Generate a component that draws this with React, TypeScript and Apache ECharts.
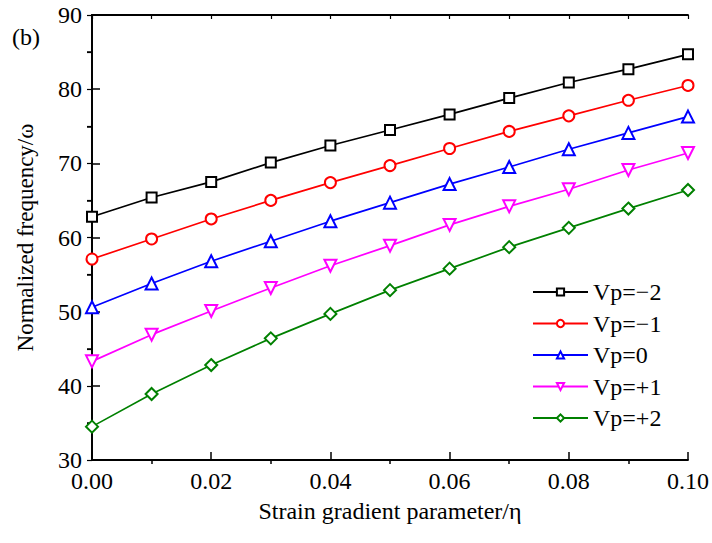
import React, { useEffect, useRef } from "react";
import * as echarts from "echarts";

const etaValues = [0, 0.01, 0.02, 0.03, 0.04, 0.05, 0.06, 0.07, 0.08, 0.09, 0.1];
const seriesNames = ["Vp=\u22122", "Vp=\u22121", "Vp=0", "Vp=+1", "Vp=+2"];
const vpMinus2 = [62.8, 65.4, 67.5, 70.1, 72.4, 74.5, 76.6, 78.8, 80.9, 82.7, 84.7];
const vpMinus1 = [57.1, 59.8, 62.5, 65.0, 67.4, 69.7, 72.0, 74.3, 76.4, 78.5, 80.5];
const vpZero = [50.6, 53.8, 56.8, 59.5, 62.2, 64.7, 67.2, 69.5, 71.9, 74.1, 76.3];
const vpPlus1 = [43.3, 46.9, 50.1, 53.2, 56.2, 58.9, 61.7, 64.2, 66.5, 69.1, 71.4];
const vpPlus2 = [34.5, 38.9, 42.8, 46.4, 49.7, 52.9, 55.8, 58.7, 61.3, 63.9, 66.4];
const seriesValues = [vpMinus2, vpMinus1, vpZero, vpPlus1, vpPlus2];
const colors = ["#000000", "#ff0000", "#0000ff", "#ff00ff", "#008000"];
const symbols = ["rect", "circle", "triangle", "triangle", "diamond"];
const symbolRotations = [0, 0, 0, 180, 0];
const symbolSizes = [10, 11, 12, 12, 12];

const FONT = "Liberation Serif";

export default function App() {
  const ref = useRef<HTMLDivElement>(null);
  useEffect(() => {
    if (!ref.current) return;
    const chart = echarts.init(ref.current, null, { renderer: "svg" });
    const series: any[] = seriesNames.map((name, i) => ({
      name,
      type: "line",
      xAxisIndex: 0,
      yAxisIndex: 0,
      data: etaValues.map((x, j) => [x, seriesValues[i][j]]),
      symbol: symbols[i],
      symbolSize: symbolSizes[i],
      symbolRotate: symbolRotations[i],
      showAllSymbol: true,
      lineStyle: { color: colors[i], width: 1.7 },
      itemStyle: { color: "#ffffff", borderColor: colors[i], borderWidth: 2 },
      emphasis: { disabled: true },
      z: 10 - i,
    }));
    const axisLine = { show: true, lineStyle: { color: "#000", width: 1.8 } };
    chart.setOption({
      animation: false,
      backgroundColor: "#ffffff",
      textStyle: { fontFamily: FONT, color: "#000" },
      grid: { left: 92, right: 22, top: 15, bottom: 83, containLabel: false },
      legend: {
        data: seriesNames,
        orient: "vertical",
        left: 532,
        top: 280,
        padding: 0,
        itemWidth: 55,
        itemHeight: 9,
        itemGap: 7.5,
        textStyle: { fontFamily: FONT, fontSize: 24, color: "#000" },
      },
      xAxis: [
        {
          type: "value",
          min: 0,
          max: 0.1,
          interval: 0.02,
          name: "Strain gradient parameter/\u03b7",
          nameLocation: "middle",
          nameGap: 39,
          nameTextStyle: { fontFamily: FONT, fontSize: 24, color: "#000" },
          axisLine,
          axisTick: { show: true, inside: true, length: 8, lineStyle: { color: "#000", width: 1.5 } },
          minorTick: { show: true, splitNumber: 2, length: -4, lineStyle: { color: "#000", width: 1.5 } },
          axisLabel: {
            margin: 9,
            fontFamily: FONT,
            fontSize: 24,
            color: "#000",
            formatter: (v: number) => v.toFixed(2),
          },
          splitLine: { show: false },
        },
        {
          type: "value",
          position: "top",
          min: 0,
          max: 0.1,
          interval: 0.01,
          axisLine,
          axisTick: { show: true, inside: true, length: 4, lineStyle: { color: "#000", width: 1.2 } },
          axisLabel: { show: false },
          splitLine: { show: false },
        },
      ],
      yAxis: [
        {
          type: "value",
          min: 30,
          max: 90,
          interval: 10,
          name: "Normalized frequency/\u03c9",
          nameLocation: "middle",
          nameGap: 55,
          nameTextStyle: { fontFamily: FONT, fontSize: 23, color: "#000" },
          axisLine,
          axisTick: { show: true, inside: true, length: 8, lineStyle: { color: "#000", width: 1.5 } },
          minorTick: { show: true, splitNumber: 2, length: -5, lineStyle: { color: "#000", width: 1.5 } },
          axisLabel: { margin: 10, fontFamily: FONT, fontSize: 24, color: "#000" },
          splitLine: { show: false },
        },
        {
          type: "value",
          position: "right",
          min: 30,
          max: 90,
          interval: 5,
          axisLine,
          axisTick: { show: true, inside: true, length: 5, lineStyle: { color: "#000", width: 1.2 } },
          axisLabel: { show: false },
          splitLine: { show: false },
        },
      ],
      graphic: [
        {
          type: "text",
          left: 12,
          top: 25,
          style: { text: "(b)", font: `24px ${FONT}`, fill: "#000" },
        },
      ],
      series,
    });
    return () => chart.dispose();
  }, []);
  return <div ref={ref} style={{ width: 712, height: 543, position: "absolute", left: 0, top: 0 }} />;
}
